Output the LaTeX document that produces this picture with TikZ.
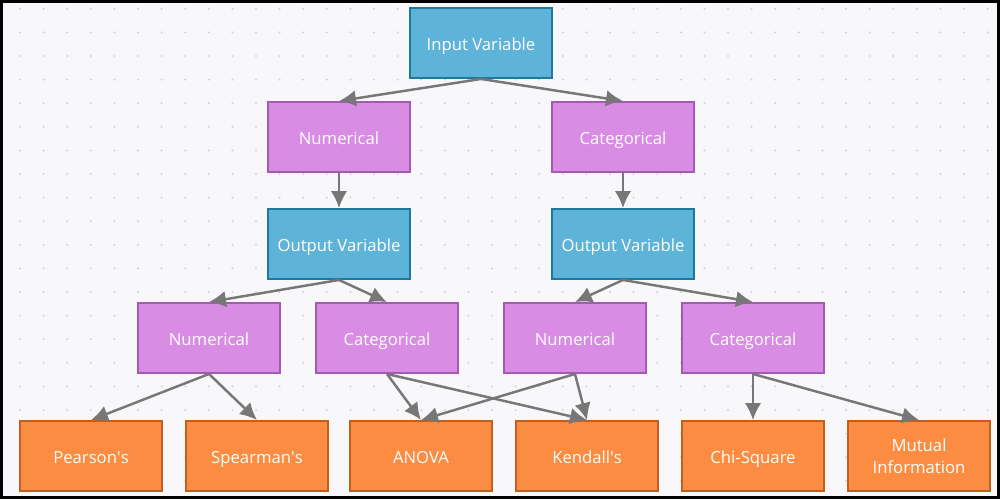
\documentclass[tikz,border=0pt]{standalone}
\usepackage{fontspec}
\setmainfont{Open Sans}
\usetikzlibrary{arrows.meta}

\definecolor{bgcol}{HTML}{F8F8FB}
\definecolor{dotcol}{HTML}{D2D2D8}
\definecolor{blueF}{HTML}{5EB3D8}
\definecolor{blueD}{HTML}{1E78A0}
\definecolor{purpF}{HTML}{D98CE3}
\definecolor{purpD}{HTML}{A45AB2}
\definecolor{orngF}{HTML}{FB8C42}
\definecolor{orngD}{HTML}{C0601C}
\definecolor{edgecol}{HTML}{777777}

\begin{document}
\begin{tikzpicture}[node distance=1.88cm,
    box/.style={draw,line width=1.1pt,minimum width=2.84cm,minimum height=1.4cm,text=white,font=\fontsize{9.5}{12.5}\selectfont,align=center,text height=1.55ex,text depth=0pt},
    var node/.style={box,fill=blueF,draw=blueD},
    type node/.style={box,fill=purpF,draw=purpD},
    test node/.style={box,fill=orngF,draw=orngD}]
            % background and dots
            \fill[bgcol] (0,0) rectangle (20,-9.98);
            \foreach \i in {0,...,41}
                \foreach \j in {0,...,20}
                    \fill[dotcol] (0.4+0.472*\i,-0.176-0.472*\j) circle (0.022);
            \useasboundingbox (0,0) rectangle (20,-9.98);

            \node[var node] (in) at (9.62,-0.86) {Input Variable};
            \node[type node] (n1) [below of = in, xshift = -2.84cm] {Numerical};
            \node[type node] (c1) [below of = in, xshift = 2.84cm] {Categorical};

            \node[var node] (o1) [below of = n1, yshift = -0.26cm] {Output Variable};
            \node[var node] (o2) [below of = c1, yshift = -0.26cm] {Output Variable};

            \node[type node] (n2) [below of = o1, xshift = -2.6cm] {Numerical};
            \node[type node] (c2) [below of = o1, xshift = 0.96cm] {Categorical};
            \node[type node] (n3) [below of = o2, xshift = -0.96cm] {Numerical};
            \node[type node] (c3) [below of = o2, xshift = 2.6cm] {Categorical};

            \node[test node] (pe) [below of = n2, xshift = -2.36cm, yshift = -0.48cm] {Pearson\textquotesingle s};
            \node[test node] (sp) [below of = n2, xshift = 0.96cm, yshift = -0.48cm] {Spearman\textquotesingle s};
            \node[test node] (an) [below of = c2, xshift = 0.68cm, yshift = -0.48cm] {ANOVA};
            \node[test node] (ke) [below of = n3, xshift = 0.24cm, yshift = -0.48cm] {Kendall\textquotesingle s};
            \node[test node] (chi) [below of = c3, yshift = -0.48cm] {Chi-Square};
            \node[test node, text height=, text depth=] (mi) [below of = c3, xshift = 3.32cm, yshift = -0.48cm] {Mutual\\Information};

            \path[every edge/.style={draw=edgecol,line width=1.4pt,-{Latex[length=3.4mm,width=3.3mm]}}]
                (in.south) edge (n1.north)
                (in.south) edge (c1.north)
                (n1.south) edge (o1.north)
                (c1.south) edge (o2.north)

                (o1.south) edge (n2.north)
                (o1.south) edge (c2.north)
                (o2.south) edge (n3.north)
                (o2.south) edge (c3.north)

                (n2.south) edge (pe.north)
                (n2.south) edge (sp.north)
                (c2.south) edge (an.north)
                (c2.south) edge (ke.north)
                (n3.south) edge (an.north)
                (n3.south) edge (ke.north)
                (c3.south) edge (chi.north)
                (c3.south) edge (mi.north)
                ;

            % frame
            \draw[line width=1.7pt,black] (0.03,-0.03) rectangle (19.97,-9.95);
        \end{tikzpicture}
\end{document}
